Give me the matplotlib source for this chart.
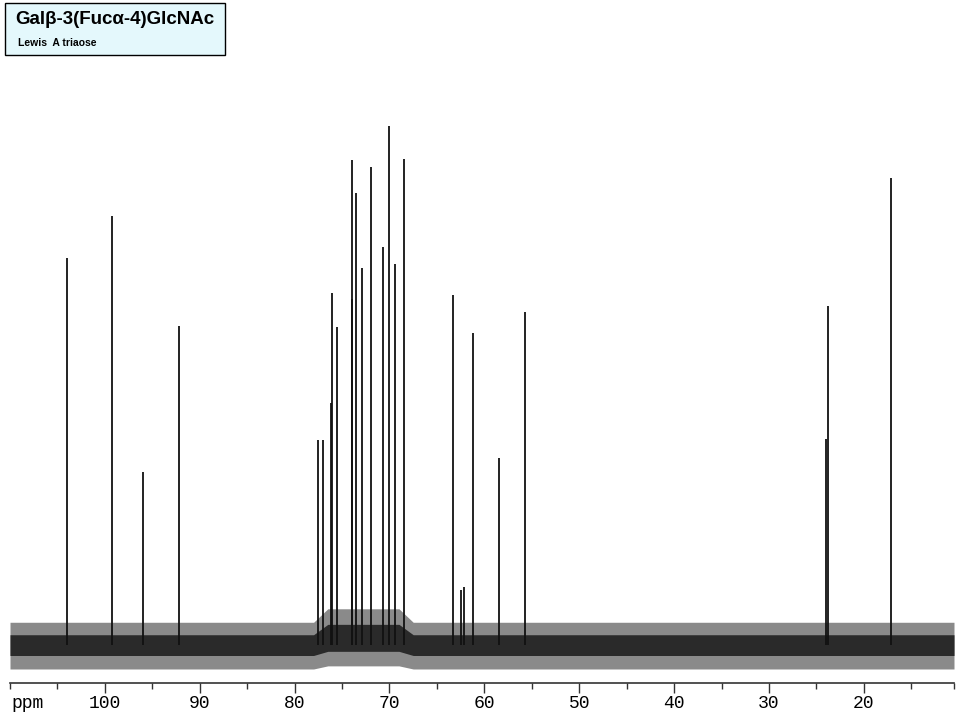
import matplotlib.pyplot as plt
from matplotlib.patches import Rectangle

# peak positions (ppm) and relative heights (tallest = 100)
peak_ppm = [104.0, 99.26, 96.0, 92.2,
            77.55, 76.96, 76.2, 76.1, 75.5, 74.0, 73.9, 73.5, 72.9, 72.0,
            70.7, 70.0, 69.4, 68.46,
            63.27, 62.5, 62.1, 61.25, 58.45, 55.67,
            24.0, 23.8, 17.1]
peak_height = [74.6, 82.7, 33.3, 61.5,
               39.5, 39.5, 46.6, 67.8, 61.3, 66.7, 93.4, 87.1, 72.6, 92.1,
               76.7, 100.0, 73.4, 93.6,
               67.4, 10.6, 11.2, 60.1, 36.0, 64.2,
               39.7, 65.3, 90.0]

# rough noise envelope of the baseline
band_ppm = [110.0, 78.0, 76.5, 69.0, 67.5, 10.5]
band_lo = [-4.6, -4.6, -4.0, -4.0, -4.6, -4.6]
band_hi = [4.4, 4.4, 7.0, 7.0, 4.4, 4.4]
core_lo = [-2.0, -2.0, -1.2, -1.2, -2.0, -2.0]
core_hi = [2.0, 2.0, 4.0, 4.0, 2.0, 2.0]

major_ticks = [100, 90, 80, 70, 60, 50, 40, 30, 20]
minor_ticks = [110, 105, 95, 85, 75, 65, 55, 45, 35, 25, 15, 10.5]

fig = plt.figure(figsize=(9.6, 7.2), dpi=100)
ax = fig.add_axes([10 / 960, 37 / 720, 944 / 960, 683 / 720])

ax.fill_between(band_ppm, band_lo, band_hi, color='#8a8a8a', lw=0)
ax.fill_between(band_ppm, core_lo, core_hi, color='#2a2a2a', lw=0)
ax.vlines(peak_ppm, 0, peak_height, color='#111111', lw=1.3)

ax.set_xlim(110, 10.5)
ax.set_ylim(-7.3, 124.3)
for s in ['top', 'left', 'right']:
    ax.spines[s].set_visible(False)
ax.spines['bottom'].set_color('#333333')
ax.spines['bottom'].set_linewidth(1.2)
ax.set_yticks([])
ax.set_xticks(major_ticks)
ax.set_xticks(minor_ticks, minor=True)
ax.set_xticklabels([str(t) for t in major_ticks], family='Liberation Mono', fontsize=13)
ax.tick_params(axis='x', which='major', length=7, width=1, color='#333333', pad=2)
ax.tick_params(axis='x', which='minor', length=4, width=1, color='#333333')
fig.text(11 / 960, 1 - 703 / 720, 'ppm', family='Liberation Mono', fontsize=13,
         ha='left', va='center')

# title box
fig.patches.append(Rectangle((5 / 960, 1 - 55 / 720), 220 / 960, 52 / 720,
                             transform=fig.transFigure, facecolor='#e4f8fc',
                             edgecolor='black', lw=1))
fig.text(15 / 960, 1 - 20 / 720, 'Gal\u03b2-3(Fuc\u03b1-4)GlcNAc', family='Liberation Sans',
         fontsize=13.5, fontweight='bold', ha='left', va='center')
fig.text(18 / 960, 1 - 43 / 720, 'Lewis  A triaose', family='Liberation Sans',
         fontsize=7.5, fontweight='bold', ha='left', va='center')

fig.savefig('out.png', dpi=100, facecolor='white')
